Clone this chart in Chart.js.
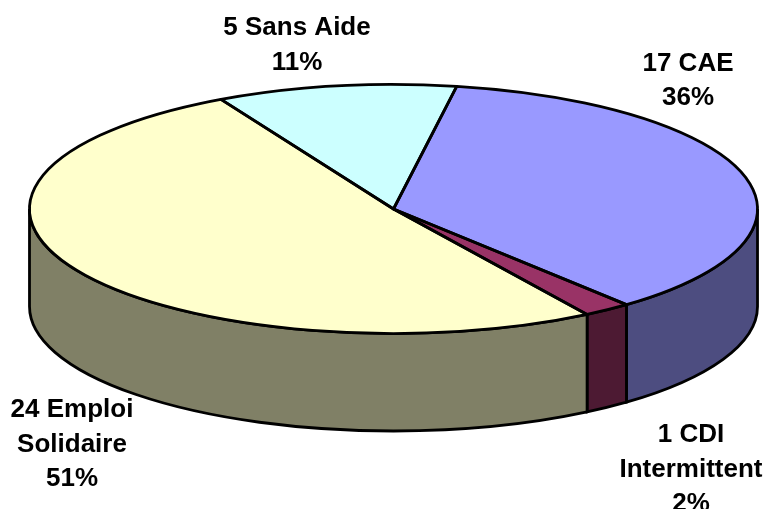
<!DOCTYPE html>
<html>
<head>
<meta charset="utf-8">
<title>Répartition des contrats</title>
<style>
  html, body { margin: 0; padding: 0; background: #fff; }
  #wrap { width: 768px; height: 509px; }
</style>
<script src="https://cdn.jsdelivr.net/npm/chart.js@4"></script>
</head>
<body>
<div id="wrap"><canvas id="pie" width="768" height="509"></canvas></div>
<script>
// Data
const categories = ['5 Sans Aide', '17 CAE', '1 CDI Intermittent', '24 Emploi Solidaire'];
const counts = [5, 17, 1, 24];
const labelLines = [
    ['5 Sans Aide', '11%'],
    ['17 CAE', '36%'],
    ['1 CDI', 'Intermittent', '2%'],
    ['24 Emploi', 'Solidaire', '51%']
];
const topColors = ['#CCFFFF', '#9999FF', '#993366', '#FFFFCC'];
const wallColors = ['#668080', '#4D4D80', '#4D1A33', '#808066'];

// Where the flattened disc sits on the page
const DISC = { cx: 393.5, cy: 209, rx: 364, ry: 124.5, depth: 97.5 };
const LABEL_POS = [[297, 35], [688, 70.5], [691, 442], [72, 417]];
const LINE_GAP = 34.6;

/**
 * Fake 3D: the library draws a flat pie, this squashes it into an ellipse
 * and adds the side wall and outlines from the arcs' own angles
 */
const pie3d = {
    id: 'pie3d',
    beforeDatasetsDraw(chart) {
        const ctx = chart.ctx;
        const arcs = chart.getDatasetMeta(0).data;

        ctx.lineWidth = 2.8;
        ctx.strokeStyle = '#000';
        arcs.forEach((arc, i) => {
            // Only the front half of the disc shows a wall
            const a = Math.max(arc.startAngle, 0);
            const b = Math.min(arc.endAngle, Math.PI);
            if (b <= a) return;
            ctx.beginPath();
            ctx.ellipse(DISC.cx, DISC.cy, DISC.rx, DISC.ry, 0, a, b);
            ctx.ellipse(DISC.cx, DISC.cy + DISC.depth, DISC.rx, DISC.ry, 0, b, a, true);
            ctx.closePath();
            ctx.fillStyle = wallColors[i];
            ctx.fill();
            ctx.stroke();
        });

        const first = arcs[0];
        ctx.save();
        ctx.translate(DISC.cx, DISC.cy);
        ctx.scale(DISC.rx / first.outerRadius, DISC.ry / first.outerRadius);
        ctx.translate(-first.x, -first.y);
    },
    afterDatasetsDraw(chart) {
        const ctx = chart.ctx;
        ctx.restore();

        ctx.lineWidth = 2.8;
        ctx.strokeStyle = '#000';
        ctx.lineJoin = 'round';
        chart.getDatasetMeta(0).data.forEach(arc => {
            ctx.beginPath();
            ctx.moveTo(DISC.cx, DISC.cy);
            ctx.ellipse(DISC.cx, DISC.cy, DISC.rx, DISC.ry, 0, arc.startAngle, arc.endAngle);
            ctx.closePath();
            ctx.stroke();
        });

        ctx.fillStyle = '#000';
        ctx.font = 'bold 26px "Liberation Sans", Arial, sans-serif';
        ctx.textAlign = 'center';
        ctx.textBaseline = 'alphabetic';
        labelLines.forEach((lines, i) => {
            lines.forEach((line, j) => {
                ctx.fillText(line, LABEL_POS[i][0], LABEL_POS[i][1] + j * LINE_GAP);
            });
        });
    }
};

new Chart(document.getElementById('pie'), {
    type: 'pie',
    data: {
        labels: categories,
        datasets: [{
            data: counts,
            backgroundColor: topColors,
            borderWidth: 0,
            clip: false
        }]
    },
    options: {
        responsive: false,
        animation: false,
        rotation: -28.3,
        plugins: {
            legend: { display: false },
            tooltip: { enabled: false }
        }
    },
    plugins: [pie3d]
});
</script>
</body>
</html>
